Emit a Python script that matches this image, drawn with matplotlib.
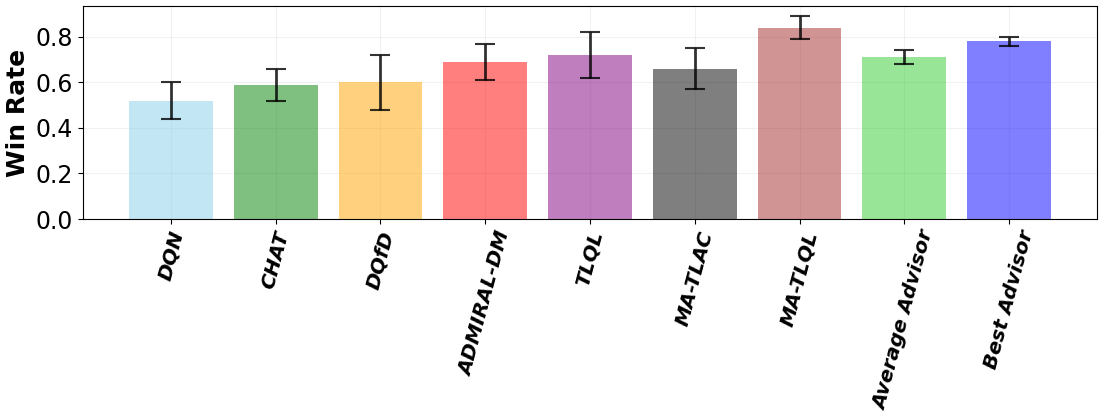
import matplotlib
matplotlib.use("Agg")
from matplotlib import pyplot as plt
import numpy as np

methods = ['DQN', 'CHAT', 'DQfD', 'ADMIRAL-DM', 'TLQL', 'MA-TLAC', 'MA-TLQL',
           'Average Advisor', 'Best Advisor']
win_rate = [0.52, 0.59, 0.60, 0.69, 0.72, 0.66, 0.84, 0.71, 0.78]
win_err = [0.08, 0.07, 0.12, 0.08, 0.10, 0.09, 0.05, 0.03, 0.02]
colors = ['skyblue', 'green', 'orange', 'red', 'purple', 'black', 'brown',
          'limegreen', 'blue']

fig = plt.figure(figsize=(11.02, 4.17), dpi=100)
ax = fig.add_axes([0.0753, 0.4748, 0.9202, 0.5108])

x = np.arange(len(methods))
ax.bar(x, win_rate, yerr=win_err, color=colors, alpha=0.5, capsize=7,
       error_kw=dict(ecolor='black', elinewidth=2, capthick=1.5, alpha=0.8))

ax.set_xticks(x)
ax.set_xticklabels(methods, rotation=75, fontsize=14.5, fontweight='bold',
                   fontstyle='italic')
ax.set_yticks([0.0, 0.2, 0.4, 0.6, 0.8])
ax.tick_params(axis='y', labelsize=17)
ax.set_ylabel('Win Rate', fontsize=18, fontweight='bold')
ax.set_ylim(0, 0.935)
ax.grid(True, color='lightgray', alpha=0.3)
ax.set_axisbelow(True)

fig.savefig('out.png', dpi=100)
